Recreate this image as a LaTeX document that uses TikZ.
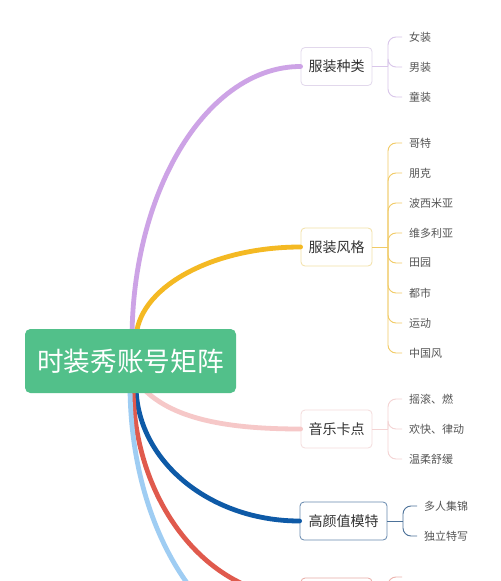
\documentclass[tikz,border=0pt]{standalone}
\usepackage{fontspec}
\setmainfont{Noto Sans CJK SC}
\definecolor{rootgreen}{HTML}{52C08A}
\definecolor{bpurple}{HTML}{CDA3E6}
\definecolor{borange}{HTML}{F4B923}
\definecolor{bpink}{HTML}{F6C8C8}
\definecolor{bblue}{HTML}{0E5AA7}
\definecolor{bred}{HTML}{E05A4D}
\definecolor{blight}{HTML}{9FCDF3}
\definecolor{tpurple}{HTML}{D9C6EA}
\definecolor{torange}{HTML}{F1CB66}
\definecolor{tpink}{HTML}{F4D4D4}
\definecolor{tblue}{HTML}{4D7299}
\definecolor{tred}{HTML}{EDB5AF}
\definecolor{kpurple}{HTML}{E2D8EC}
\definecolor{korange}{HTML}{F2E0A6}
\definecolor{kpink}{HTML}{F4DCDC}
\definecolor{kblue}{HTML}{6688AE}
\definecolor{kred}{HTML}{E8ABA5}
\definecolor{txtdark}{HTML}{333333}
\definecolor{txtleaf}{HTML}{555555}
\begin{document}
\begin{tikzpicture}[x=0.75pt,y=-0.75pt,
  cat/.style={draw, fill=white, rounded corners=3pt, minimum height=28.5pt,
    minimum width=53.25pt, inner sep=0pt, line width=0.6pt,
    font=\fontsize{10.5}{12}\selectfont, text=txtdark},
  leaf/.style={anchor=west, inner xsep=5.25pt, inner ysep=0pt, outer sep=0pt,
    font=\fontsize{8.25}{10}\selectfont, text=txtleaf},
  branch/.style={line width=3.6pt, line cap=round},
  twig/.style={line width=0.7pt, rounded corners=6pt}]
\path[use as bounding box, clip] (0,0) rectangle (500,581);
\fill[white] (0,0) rectangle (500,581);

% category nodes
\node[cat, draw=kpurple] (c1) at (336.5,66.5) {服装种类};
\node[cat, draw=korange] (c2) at (336.5,247) {服装风格};
\node[cat, draw=kpink] (c3) at (336.5,429) {音乐卡点};
\node[cat, draw=kblue, minimum width=65.25pt] (c4) at (343.5,521) {高颜值模特};
\node[cat, draw=kred] (c5) at (336.5,597) {};
\coordinate (c6) at (300,650);

% branch start points (under the root box)
\coordinate (s1) at (132,340);
\coordinate (s2) at (136,340);
\coordinate (s3) at (140,385);
\coordinate (s4) at (136,385);
\coordinate (s5) at (133,385);
\coordinate (s6) at (130,385);

% main branches
\draw[branch, bpurple] (s1) .. controls (132,189) and (208,66.5) .. (c1.west);
\draw[branch, borange] (s2) .. controls (136,289) and (210,247) .. (c2.west);
\draw[branch, bpink] (s3) .. controls (170,420) and (230,429) .. (c3.west);
\draw[branch, bblue] (s4) .. controls (136,460) and (209,521) .. (c4.west);
\draw[branch, bred] (s5) .. controls (133,502) and (208,597) .. (c5.west);
\draw[branch, blight] (s6) .. controls (130,531) and (206,650) .. (c6);

% root
\node[fill=rootgreen, rounded corners=4pt, minimum width=158.25pt,
  minimum height=48pt, inner sep=0pt, text=white,
  font=\fontsize{20}{24}\selectfont] (root) at (130.5,361) {时装秀账号矩阵};

% group 1
\coordinate (f1) at (388,66.5);
\node[leaf] (l11) at (402,37) {女装};
\node[leaf] (l12) at (402,67) {男装};
\node[leaf] (l13) at (402,97) {童装};
\draw[twig, tpurple] (c1.east) -- (f1);
\foreach \n in {l11,l12,l13} \draw[twig, tpurple] (f1) |- (\n.west);

% group 2
\coordinate (f2) at (388,247);
\node[leaf] (l21) at (402,143) {哥特};
\node[leaf] (l22) at (402,173) {朋克};
\node[leaf] (l23) at (402,203) {波西米亚};
\node[leaf] (l24) at (402,233) {维多利亚};
\node[leaf] (l25) at (402,263) {田园};
\node[leaf] (l26) at (402,293) {都市};
\node[leaf] (l27) at (402,323) {运动};
\node[leaf] (l28) at (402,353) {中国风};
\draw[twig, torange] (c2.east) -- (f2);
\foreach \n in {l21,l22,l23,l24,l25,l26,l27,l28} \draw[twig, torange] (f2) |- (\n.west);

% group 3
\coordinate (f3) at (388,429);
\node[leaf] (l31) at (402,399) {摇滚、燃};
\node[leaf] (l32) at (402,429) {欢快、律动};
\node[leaf] (l33) at (402,459) {温柔舒缓};
\draw[twig, tpink] (c3.east) -- (f3);
\foreach \n in {l31,l32,l33} \draw[twig, tpink] (f3) |- (\n.west);

% group 4
\coordinate (f4) at (403,521);
\node[leaf] (l41) at (417,506) {多人集锦};
\node[leaf] (l42) at (417,536) {独立特写};
\draw[twig, tblue] (c4.east) -- (f4);
\foreach \n in {l41,l42} \draw[twig, tblue] (f4) |- (\n.west);

% group 5 (cut off)
\coordinate (f5) at (388,597);
\coordinate (l51) at (402,577);
\draw[twig, tred] (c5.east) -- (f5);
\draw[twig, tred] (f5) |- (l51);
\end{tikzpicture}
\end{document}
